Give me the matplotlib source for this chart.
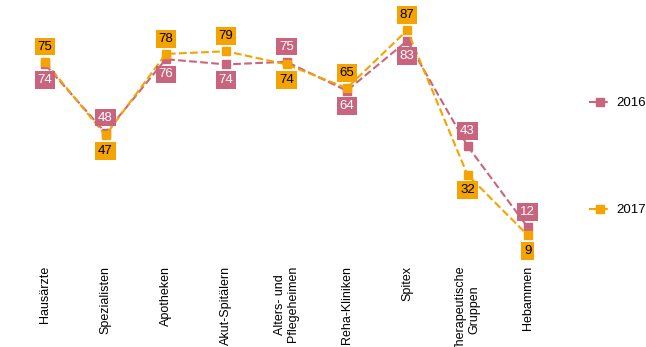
import matplotlib.pyplot as plt

plt.rcParams['font.family'] = ['Liberation Sans', 'DejaVu Sans']

categories = ['Hausärzte', 'Spezialisten', 'Apotheken', 'Akut-Spitälern',
              'Alters- und\nPflegeheimen', 'Reha-Kliniken', 'Spitex',
              'Therapeutische\nGruppen', 'Hebammen']
y2016 = [74, 48, 76, 74, 75, 64, 83, 43, 12]
y2017 = [75, 47, 78, 79, 74, 65, 87, 32, 9]

c2016 = '#C9647F'
c2017 = '#F5A300'

fig = plt.figure(figsize=(6.46, 3.47), dpi=100)
ax = fig.add_axes([15/646, (347-259)/347, 543/646, 259/347])

x = range(len(categories))
ax.plot(x, y2016, color=c2016, linestyle='--', linewidth=1.5, marker='s',
        markersize=6, label='2016', zorder=2)
ax.plot(x, y2017, color=c2017, linestyle='--', linewidth=1.5, marker='s',
        markersize=6, label='2017', zorder=3)

# label: higher value above, lower value below
for i in x:
    for val, other, col, tcol in [(y2016[i], y2017[i], c2016, 'white'),
                                  (y2017[i], y2016[i], c2017, 'black')]:
        off = 11 if val > other else -11
        ax.annotate(str(val), (i, val), xytext=(0, off), textcoords='offset points',
                    ha='center', va='center', fontsize=9.5, color=tcol, zorder=5,
                    bbox=dict(boxstyle='square,pad=0.22', fc=col, ec='none'))

ax.set_xlim(-0.5, len(categories) - 0.5)
ax.set_ylim(0, 98.5)
ax.set_xticks(list(x))
ax.set_xticklabels(categories, rotation=90, fontsize=9)
ax.tick_params(axis='x', length=0, pad=5)
ax.set_yticks([])
for s in ax.spines.values():
    s.set_visible(False)

fig.legend(loc='upper left', bbox_to_anchor=(589/646, 1 - 97/347), frameon=False,
           fontsize=9.5, borderpad=0, borderaxespad=0, handlelength=1.6,
           handletextpad=0.5, labelspacing=7.2)

fig.savefig('out.png', dpi=100)
